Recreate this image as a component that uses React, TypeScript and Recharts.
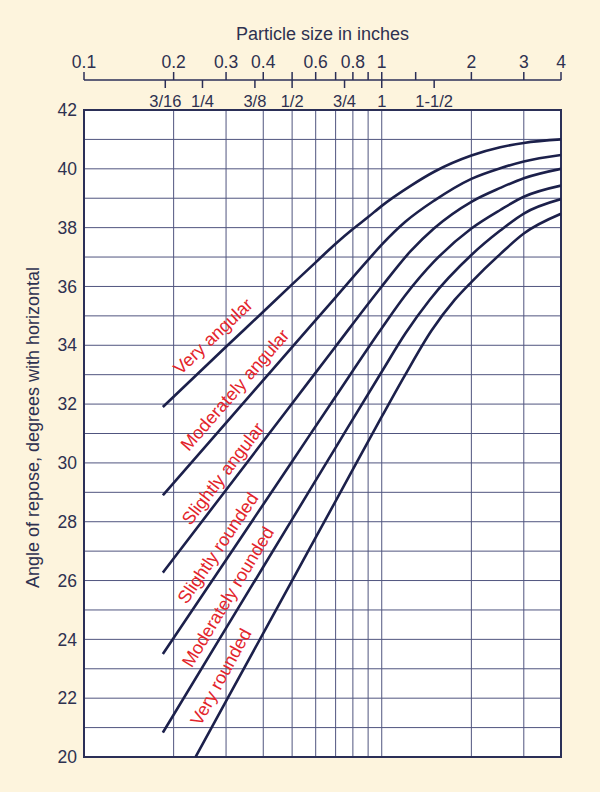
import React from 'react';
import {
  LineChart,
  Line,
  XAxis,
  YAxis,
  CartesianGrid,
  ReferenceArea,
  ReferenceDot,
} from 'recharts';

// ---- tick / axis data ----
const decTicks = [0.1, 0.2, 0.3, 0.4, 0.5, 0.6, 0.7, 0.8, 0.9, 1, 1.3, 2, 3, 4];
const decLabels = ['0.1', '0.2', '0.3', '0.4', '', '0.6', '', '0.8', '', '1', '', '2', '3', '4'];
const fracTicks = [0.1875, 0.25, 0.375, 0.5, 0.75, 1, 1.5];
const fracLabels = ['3/16', '1/4', '3/8', '1/2', '3/4', '1', '1-1/2'];
const gridX = [0.2, 0.3, 0.4, 0.5, 0.6, 0.7, 0.8, 0.9, 1, 2, 3, 4];
const yTicks = [20, 21, 22, 23, 24, 25, 26, 27, 28, 29, 30, 31, 32, 33, 34, 35, 36, 37, 38, 39, 40, 41, 42];

// ---- series: [particle size (in), angle (deg)] ----
const veryAngular = [
  [0.184, 31.9], [0.3, 33.95], [0.4, 35.14], [0.5, 36.07], [0.6, 36.82], [0.7, 37.45],
  [0.8, 37.95], [0.9, 38.36], [1, 38.74], [1.25, 39.42], [1.5, 39.9], [2, 40.45],
  [2.5, 40.73], [3, 40.88], [4, 41.0],
];
const moderatelyAngular = [
  [0.184, 28.9], [0.3, 31.36], [0.5, 33.94], [0.7, 35.63], [0.9, 36.9], [1, 37.42],
  [1.2, 38.2], [1.5, 38.92], [2, 39.66], [2.5, 40.02], [3, 40.25], [4, 40.47],
];
const slightlyAngular = [
  [0.184, 26.27], [0.3, 29.08], [0.5, 32.02], [0.7, 33.96], [1, 36.0], [1.25, 37.2],
  [1.5, 37.98], [2, 38.88], [2.5, 39.35], [3, 39.68], [4, 40.0],
];
const slightlyRounded = [
  [0.184, 23.5], [0.3, 26.7], [0.5, 30.05], [0.7, 32.26], [1, 34.58], [1.2, 35.7],
  [1.5, 36.85], [2, 37.97], [2.5, 38.6], [3, 39.05], [4, 39.43],
];
const moderatelyRounded = [
  [0.184, 20.83], [0.3, 24.38], [0.5, 28.08], [0.7, 30.52], [1, 33.1], [1.2, 34.4],
  [1.45, 35.55], [2, 37.07], [2.5, 37.9], [3, 38.48], [4, 38.97],
];
const veryRounded = [
  [0.237, 20.0], [0.3, 21.9], [0.5, 26.0], [0.7, 28.7], [1, 31.57], [1.2, 33.0],
  [1.47, 34.5], [1.76, 35.55], [2, 36.15], [2.5, 37.1], [3, 37.8], [4, 38.47],
];
const seriesList = [veryAngular, moderatelyAngular, slightlyAngular, slightlyRounded, moderatelyRounded, veryRounded];

// ---- curve labels ----
const curveNames = ['Very angular', 'Moderately angular', 'Slightly angular', 'Slightly rounded', 'Moderately rounded', 'Very rounded'];
const curveLabelX = [0.2713, 0.3215, 0.293, 0.2818, 0.3046, 0.2885];
const curveLabelY = [34.3, 32.48, 29.63, 27.1, 25.44, 22.72];
const curveLabelAngle = [-43.5, -48.9, -52.6, -56, -58.8, -61.3];

const FONT = '"Liberation Sans", Arial, Helvetica, sans-serif';
const BG = '#fdf4dd';
const NAVY = '#2b2f57';
const TEXT = '#2e3150';
const CURVE = '#1c204b';
const GRID = '#50557f';
const RED = '#e3242b';

const toPoints = (s: number[][]) => s.map(([x, y]) => ({ x, y }));

const DecTick = (props: any) => {
  const { x, y, payload } = props;
  const i = decTicks.indexOf(payload.value);
  const label = i >= 0 ? decLabels[i] : '';
  return (
    <g>
      <line x1={x} y1={y} x2={x} y2={y - 8} stroke={NAVY} strokeWidth={1.5} />
      <text x={x} y={y - 12} textAnchor="middle" fontSize={17.5} fontFamily={FONT} fill={TEXT}>
        {label}
      </text>
    </g>
  );
};

const FracTick = (props: any) => {
  const { x, y, payload } = props;
  const i = fracTicks.indexOf(payload.value);
  const label = i >= 0 ? fracLabels[i] : '';
  return (
    <g>
      <line x1={x} y1={y - 30} x2={x} y2={y - 22} stroke={NAVY} strokeWidth={1.5} />
      <text x={x} y={y - 3.5} textAnchor="middle" fontSize={16.5} fontFamily={FONT} fill={TEXT}>
        {label}
      </text>
    </g>
  );
};

const TopTitle = (props: any) => {
  const vb = props.viewBox || {};
  return (
    <text x={vb.x + vb.width / 2} y={vb.y + 39.5} textAnchor="middle" fontSize={18} fontFamily={FONT} fill={TEXT}>
      Particle size in inches
    </text>
  );
};

const LeftTitle = (props: any) => {
  const vb = props.viewBox || {};
  const cx = vb.x + 33;
  const cy = vb.y + vb.height / 2 - 6;
  return (
    <text
      x={cx}
      y={cy}
      textAnchor="middle"
      dominantBaseline="central"
      transform={`rotate(-90, ${cx}, ${cy})`}
      fontSize={18}
      fontFamily={FONT}
      fill={TEXT}
    >
      Angle of repose, degrees with horizontal
    </text>
  );
};

const makeLabelShape = (text: string, angle: number) => (props: any) => {
  const { cx, cy } = props;
  return (
    <text
      x={cx}
      y={cy}
      textAnchor="middle"
      dominantBaseline="central"
      transform={`rotate(${angle}, ${cx}, ${cy})`}
      fontSize={18}
      fontFamily={FONT}
      fill={RED}
    >
      {text}
    </text>
  );
};

export default function App() {
  return (
    <div style={{ position: 'absolute', left: 0, top: 0, width: 600, height: 792, background: BG }}>
      <LineChart width={600} height={792} margin={{ top: 0, right: 39, bottom: 35, left: 0 }}>
        <XAxis
          xAxisId="a_frac"
          orientation="top"
          type="number"
          scale="log"
          dataKey="x"
          domain={[0.1, 4]}
          allowDataOverflow
          ticks={fracTicks}
          interval={0}
          height={30}
          axisLine={false}
          tickLine={false}
          tickSize={0}
          tickMargin={0}
          tick={<FracTick />}
        />
        <XAxis
          xAxisId="b_dec"
          orientation="top"
          type="number"
          scale="log"
          dataKey="x"
          domain={[0.1, 4]}
          allowDataOverflow
          ticks={decTicks}
          interval={0}
          height={80}
          axisLine={{ stroke: NAVY, strokeWidth: 1.5 }}
          tickLine={false}
          tickSize={0}
          tickMargin={0}
          tick={<DecTick />}
          label={{ content: <TopTitle /> }}
        />
        <XAxis
          xAxisId="c_grid"
          type="number"
          scale="log"
          dataKey="x"
          domain={[0.1, 4]}
          allowDataOverflow
          ticks={gridX}
          interval={0}
          hide
        />
        <YAxis
          type="number"
          domain={[20, 42]}
          ticks={yTicks}
          interval={0}
          width={84}
          axisLine={false}
          tickLine={false}
          tickSize={0}
          tickMargin={7}
          tickFormatter={(v: number) => (v % 2 === 0 ? String(v) : '')}
          tick={{ fill: TEXT, fontSize: 17.5, fontFamily: FONT }}
          label={{ content: <LeftTitle /> }}
        />
        <CartesianGrid xAxisId="c_grid" stroke={GRID} strokeWidth={1} fill="#ffffff" fillOpacity={1} />
        {seriesList.map((s, i) => (
          <Line
            key={i}
            xAxisId="b_dec"
            data={toPoints(s)}
            dataKey="y"
            type="monotone"
            stroke={CURVE}
            strokeWidth={2.6}
            dot={false}
            activeDot={false}
            isAnimationActive={false}
          />
        ))}
        <ReferenceArea
          xAxisId="b_dec"
          x1={0.1}
          x2={4}
          y1={20}
          y2={42}
          fill="none"
          stroke={NAVY}
          strokeWidth={2}
          ifOverflow="visible"
        />
        {curveNames.map((n, i) => (
          <ReferenceDot
            key={n}
            xAxisId="b_dec"
            x={curveLabelX[i]}
            y={curveLabelY[i]}
            r={0}
            ifOverflow="visible"
            shape={makeLabelShape(n, curveLabelAngle[i])}
          />
        ))}
      </LineChart>
    </div>
  );
}
